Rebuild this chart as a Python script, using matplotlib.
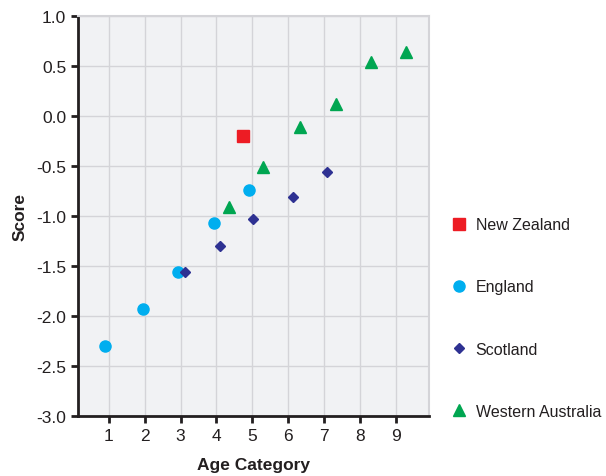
import matplotlib
matplotlib.use("Agg")
import matplotlib.pyplot as plt

plt.rcParams['font.family'] = ['Liberation Sans', 'DejaVu Sans']

# valores
nz_x = [4.75]
nz_y = [-0.20]

eng_x = [0.90, 1.95, 2.93, 3.93, 4.90]
eng_y = [-2.30, -1.93, -1.56, -1.07, -0.74]

sco_x = [3.13, 4.10, 5.03, 6.14, 7.08]
sco_y = [-1.56, -1.30, -1.03, -0.81, -0.56]

wa_x = [4.34, 5.31, 6.33, 7.33, 8.31, 9.29]
wa_y = [-0.91, -0.51, -0.11, 0.12, 0.54, 0.64]

x_ticks = [1, 2, 3, 4, 5, 6, 7, 8, 9]
y_ticks = [1.0, 0.5, 0.0, -0.5, -1.0, -1.5, -2.0, -2.5, -3.0]

fig = plt.figure(figsize=(6.06, 4.77), dpi=100)
ax = fig.add_axes([0.129, 0.126, 0.579, 0.838])
ax.set_facecolor('#f1f2f4')

ax.plot(nz_x, nz_y, 's', color='#ed1c24', ms=8.5, label='New Zealand', zorder=3)
ax.plot(eng_x, eng_y, 'o', color='#00aeef', ms=8, label='England', zorder=3)
ax.plot(sco_x, sco_y, 'D', color='#2e3192', ms=5.5, label='Scotland', zorder=3)
ax.plot(wa_x, wa_y, '^', color='#00a651', ms=8, label='Western Australia', zorder=3)

ax.set_xlim(0.15, 9.92)
ax.set_ylim(-3.0, 1.0)
ax.set_xticks(x_ticks)
ax.set_yticks(y_ticks)
ax.set_yticklabels(['%.1f' % v for v in y_ticks])
ax.grid(True, color='#d4d4d8', linewidth=1)
ax.set_axisbelow(True)

for s in ['left', 'bottom']:
    ax.spines[s].set_color('#231f20')
    ax.spines[s].set_linewidth(2)
for s in ['top', 'right']:
    ax.spines[s].set_color('#d4d4d8')
    ax.spines[s].set_linewidth(1.5)

ax.tick_params(axis='both', direction='out', length=5, width=2, color='#231f20',
               labelsize=12.5, labelcolor='#231f20')

ax.set_xlabel('Age Category', fontsize=12.5, fontweight='bold', color='#231f20', labelpad=10)
ax.set_ylabel('Score', fontsize=12.5, fontweight='bold', color='#231f20', labelpad=6)

ax.legend(loc='center left', bbox_to_anchor=(1.026, 0.245), frameon=False,
          fontsize=11.5, labelspacing=2.95, handlelength=0.8, handletextpad=0.65,
          labelcolor='#231f20')

fig.savefig('out.png', dpi=100)
